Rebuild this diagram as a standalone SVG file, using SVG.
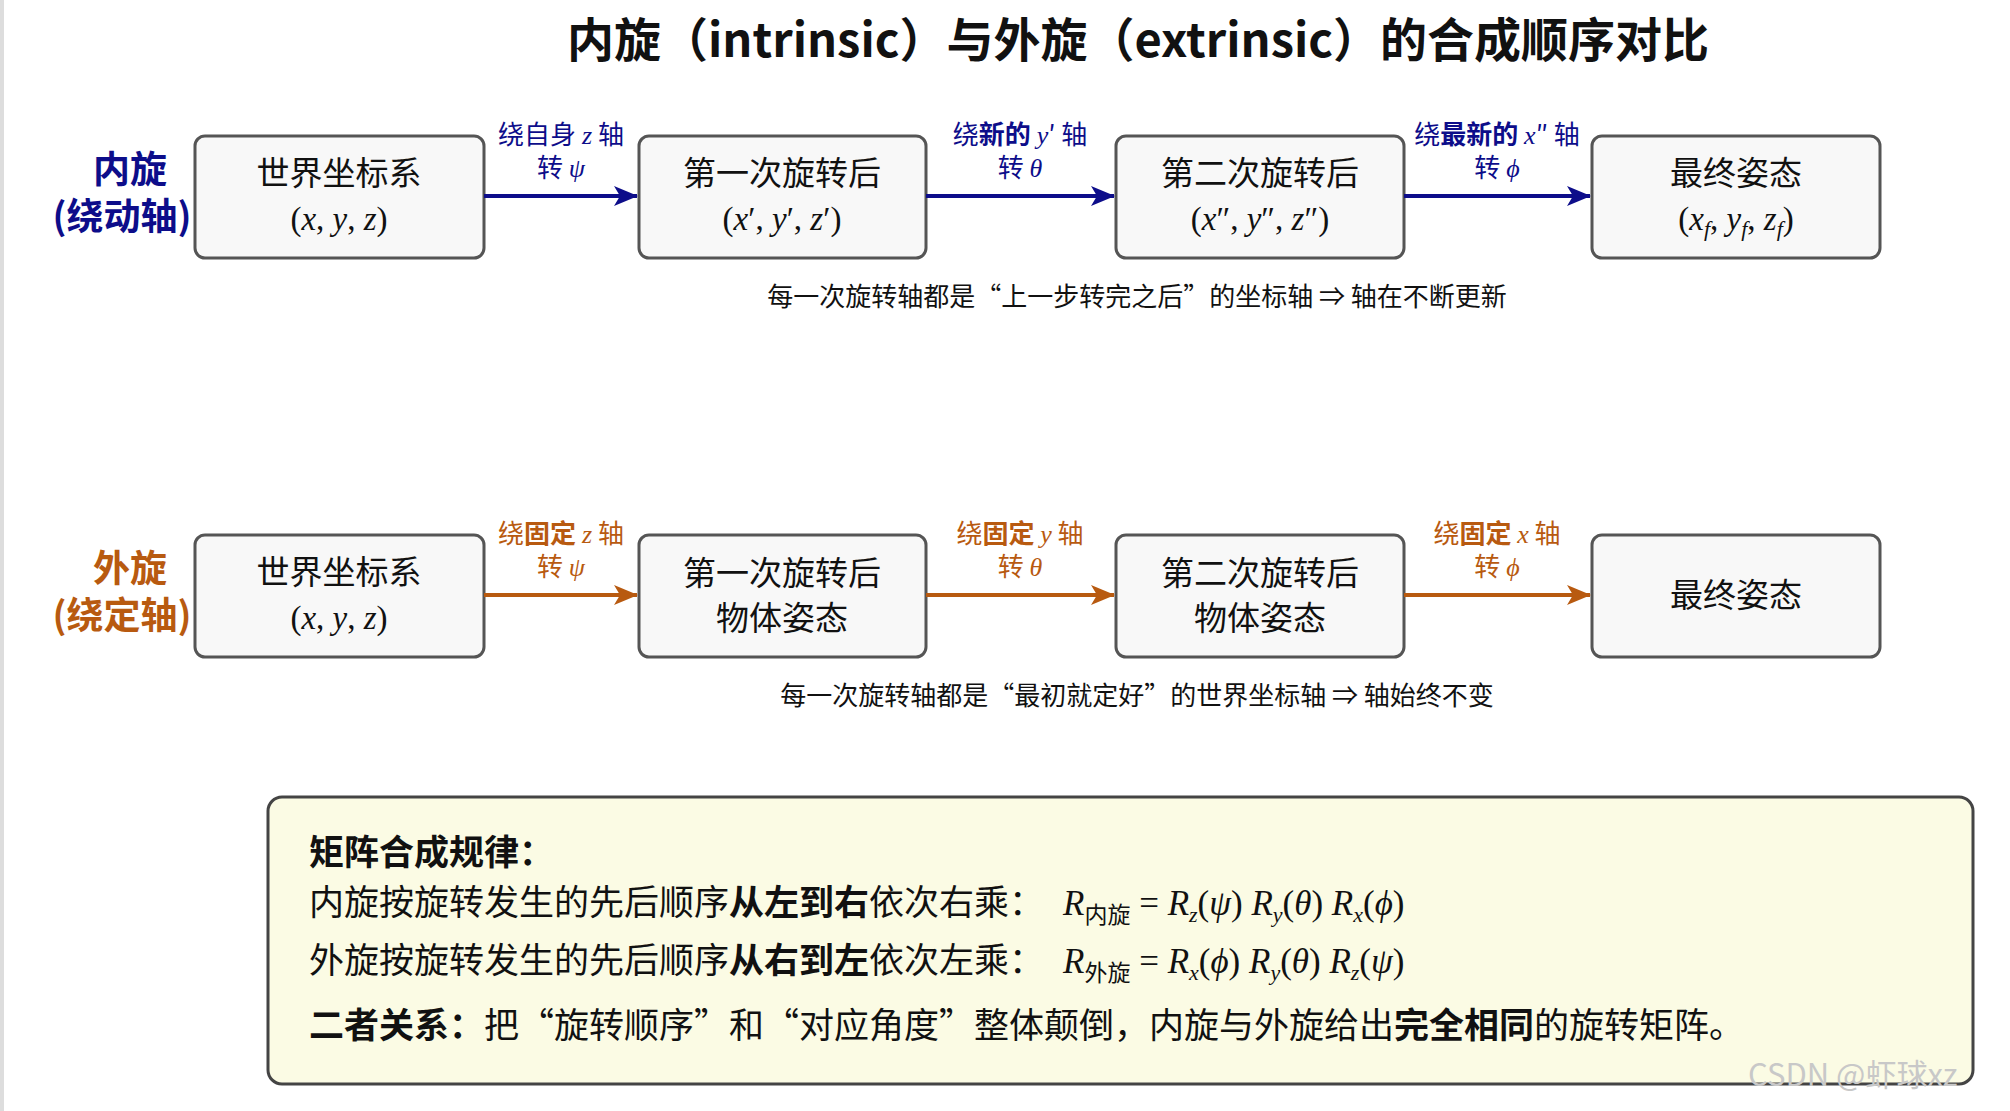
<svg xmlns="http://www.w3.org/2000/svg" width="2010" height="1111" viewBox="0 0 2010 1111">
<defs>
<marker id="ab" viewBox="0 0 24 20" refX="23" refY="10" markerWidth="24" markerHeight="20" markerUnits="userSpaceOnUse" orient="auto"><path d="M0,0 L24,10 L0,20 L6,10 Z" fill="#0d0d8a"/></marker>
<marker id="ao" viewBox="0 0 24 20" refX="23" refY="10" markerWidth="24" markerHeight="20" markerUnits="userSpaceOnUse" orient="auto"><path d="M0,0 L24,10 L0,20 L6,10 Z" fill="#b85a10"/></marker>
</defs>
<style>
text{font-family:"Noto Sans CJK SC","Liberation Sans",sans-serif;}
.box{fill:#f8f8f8;stroke:#555;stroke-width:3;}
.bt{font-size:33px;fill:#111;text-anchor:middle;}
.m{font-family:"Liberation Serif","Noto Sans CJK SC",serif;font-style:italic;}
.mr{font-family:"Liberation Serif",serif;font-style:normal;}
.lb{font-size:26px;fill:#0d0d8a;text-anchor:middle;}
.lo{font-size:26px;fill:#b85a10;text-anchor:middle;}
.note{font-size:26px;fill:#111;text-anchor:middle;}
.cb{stroke:#0d0d8a;stroke-width:4;fill:none;}
.co{stroke:#b85a10;stroke-width:4;fill:none;}
.t{font-size:35px;fill:#111;}
</style>
<rect width="2010" height="1111" fill="#fff"/>
<rect x="0" y="0" width="4" height="1111" fill="#ddd"/>
<text x="1138" y="57" font-size="47" font-weight="bold" text-anchor="middle" fill="#111">内旋（intrinsic）与外旋（extrinsic）的合成顺序对比</text>

<g id="lbl-intr"><text x="130" y="183" font-size="37" font-weight="bold" fill="#0d0d8a" text-anchor="middle">内旋</text><text x="122" y="230" font-size="37" font-weight="bold" fill="#0d0d8a" text-anchor="middle">(绕动轴)</text></g>
<g id="lbl-extr"><text x="130" y="582" font-size="37" font-weight="bold" fill="#b85a10" text-anchor="middle">外旋</text><text x="122" y="629" font-size="37" font-weight="bold" fill="#b85a10" text-anchor="middle">(绕定轴)</text></g>

<g id="n1"><rect class="box" x="195" y="136" width="289" height="122" rx="10"/><text class="bt" x="339" y="185">世界坐标系</text><text class="bt mr" x="339" y="230">(<tspan class="m">x</tspan>, <tspan class="m">y</tspan>, <tspan class="m">z</tspan>)</text></g>
<g id="n2"><rect class="box" x="639" y="136" width="287" height="122" rx="10"/><text class="bt" x="782" y="185">第一次旋转后</text><text class="bt mr" x="782" y="230">(<tspan class="m">x</tspan>′, <tspan class="m">y</tspan>′, <tspan class="m">z</tspan>′)</text></g>
<g id="n3"><rect class="box" x="1116" y="136" width="288" height="122" rx="10"/><text class="bt" x="1260" y="185">第二次旋转后</text><text class="bt mr" x="1260" y="230">(<tspan class="m">x</tspan>″, <tspan class="m">y</tspan>″, <tspan class="m">z</tspan>″)</text></g>
<g id="n4"><rect class="box" x="1592" y="136" width="288" height="122" rx="10"/><text class="bt" x="1736" y="185">最终姿态</text><text class="bt mr" x="1736" y="230">(<tspan class="m">x<tspan font-size="22" dy="6">f</tspan></tspan><tspan dy="-6">, </tspan><tspan class="m">y<tspan font-size="22" dy="6">f</tspan></tspan><tspan dy="-6">, </tspan><tspan class="m">z<tspan font-size="22" dy="6">f</tspan></tspan><tspan dy="-6">)</tspan></text></g>

<g id="m1"><rect class="box" x="195" y="535" width="289" height="122" rx="10"/><text class="bt" x="339" y="584">世界坐标系</text><text class="bt mr" x="339" y="629">(<tspan class="m">x</tspan>, <tspan class="m">y</tspan>, <tspan class="m">z</tspan>)</text></g>
<g id="m2"><rect class="box" x="639" y="535" width="287" height="122" rx="10"/><text class="bt" x="782" y="585">第一次旋转后</text><text class="bt" x="782" y="630">物体姿态</text></g>
<g id="m3"><rect class="box" x="1116" y="535" width="288" height="122" rx="10"/><text class="bt" x="1260" y="585">第二次旋转后</text><text class="bt" x="1260" y="630">物体姿态</text></g>
<g id="m4"><rect class="box" x="1592" y="535" width="288" height="122" rx="10"/><text class="bt" x="1736" y="607">最终姿态</text></g>

<g id="connectors">
<line class="cb" x1="484" y1="196" x2="637" y2="196" marker-end="url(#ab)"/>
<line class="cb" x1="926" y1="196" x2="1114" y2="196" marker-end="url(#ab)"/>
<line class="cb" x1="1404" y1="196" x2="1590" y2="196" marker-end="url(#ab)"/>
<line class="co" x1="484" y1="595" x2="637" y2="595" marker-end="url(#ao)"/>
<line class="co" x1="926" y1="595" x2="1114" y2="595" marker-end="url(#ao)"/>
<line class="co" x1="1404" y1="595" x2="1590" y2="595" marker-end="url(#ao)"/>
<text class="lb" x="561" y="144">绕自身 <tspan class="m">z</tspan> 轴</text><text class="lb" x="561" y="177">转 <tspan class="m">ψ</tspan></text>
<text class="lb" x="1020" y="144">绕<tspan font-weight="bold">新的</tspan> <tspan class="m">y</tspan>′ 轴</text><text class="lb" x="1020" y="177">转 <tspan class="m">θ</tspan></text>
<text class="lb" x="1497" y="144">绕<tspan font-weight="bold">最新的</tspan> <tspan class="m">x</tspan>″ 轴</text><text class="lb" x="1497" y="177">转 <tspan class="m">ϕ</tspan></text>
<text class="lo" x="561" y="543">绕<tspan font-weight="bold">固定</tspan> <tspan class="m">z</tspan> 轴</text><text class="lo" x="561" y="576">转 <tspan class="m">ψ</tspan></text>
<text class="lo" x="1020" y="543">绕<tspan font-weight="bold">固定</tspan> <tspan class="m">y</tspan> 轴</text><text class="lo" x="1020" y="576">转 <tspan class="m">θ</tspan></text>
<text class="lo" x="1497" y="543">绕<tspan font-weight="bold">固定</tspan> <tspan class="m">x</tspan> 轴</text><text class="lo" x="1497" y="576">转 <tspan class="m">ϕ</tspan></text>
</g>

<text class="note" x="1137" y="306">每一次旋转轴都是“上一步转完之后”的坐标轴 ⇒ 轴在不断更新</text>
<text class="note" x="1137" y="705">每一次旋转轴都是“最初就定好”的世界坐标轴 ⇒ 轴始终不变</text>

<g id="summary">
<rect x="268" y="797" width="1705" height="287" rx="14" fill="#fbfbe4" stroke="#444" stroke-width="3"/>
<text class="t" x="309" y="865" font-weight="bold">矩阵合成规律：</text>
<text class="t" x="309" y="915">内旋按旋转发生的先后顺序<tspan font-weight="bold">从左到右</tspan>依次右乘：</text>
<text class="t mr" x="1063" y="915" font-size="36"><tspan class="m">R</tspan><tspan font-family="Noto Sans CJK SC" font-size="23" dy="8">内旋</tspan><tspan dy="-8"> = </tspan><tspan class="m">R<tspan font-size="22" dy="7">z</tspan></tspan><tspan dy="-7">(</tspan><tspan class="m">ψ</tspan>) <tspan class="m">R<tspan font-size="22" dy="7">y</tspan></tspan><tspan dy="-7">(</tspan><tspan class="m">θ</tspan>) <tspan class="m">R<tspan font-size="22" dy="7">x</tspan></tspan><tspan dy="-7">(</tspan><tspan class="m">ϕ</tspan>)</text>
<text class="t" x="309" y="973">外旋按旋转发生的先后顺序<tspan font-weight="bold">从右到左</tspan>依次左乘：</text>
<text class="t mr" x="1063" y="973" font-size="36"><tspan class="m">R</tspan><tspan font-family="Noto Sans CJK SC" font-size="23" dy="8">外旋</tspan><tspan dy="-8"> = </tspan><tspan class="m">R<tspan font-size="22" dy="7">x</tspan></tspan><tspan dy="-7">(</tspan><tspan class="m">ϕ</tspan>) <tspan class="m">R<tspan font-size="22" dy="7">y</tspan></tspan><tspan dy="-7">(</tspan><tspan class="m">θ</tspan>) <tspan class="m">R<tspan font-size="22" dy="7">z</tspan></tspan><tspan dy="-7">(</tspan><tspan class="m">ψ</tspan>)</text>
<text class="t" x="309" y="1038"><tspan font-weight="bold">二者关系：</tspan>把“旋转顺序”和“对应角度”整体颠倒，内旋与外旋给出<tspan font-weight="bold">完全相同</tspan>的旋转矩阵。</text>
</g>
<text x="1748" y="1086" font-size="31" fill="#c8c8c8">CSDN @虾球xz</text>
</svg>
